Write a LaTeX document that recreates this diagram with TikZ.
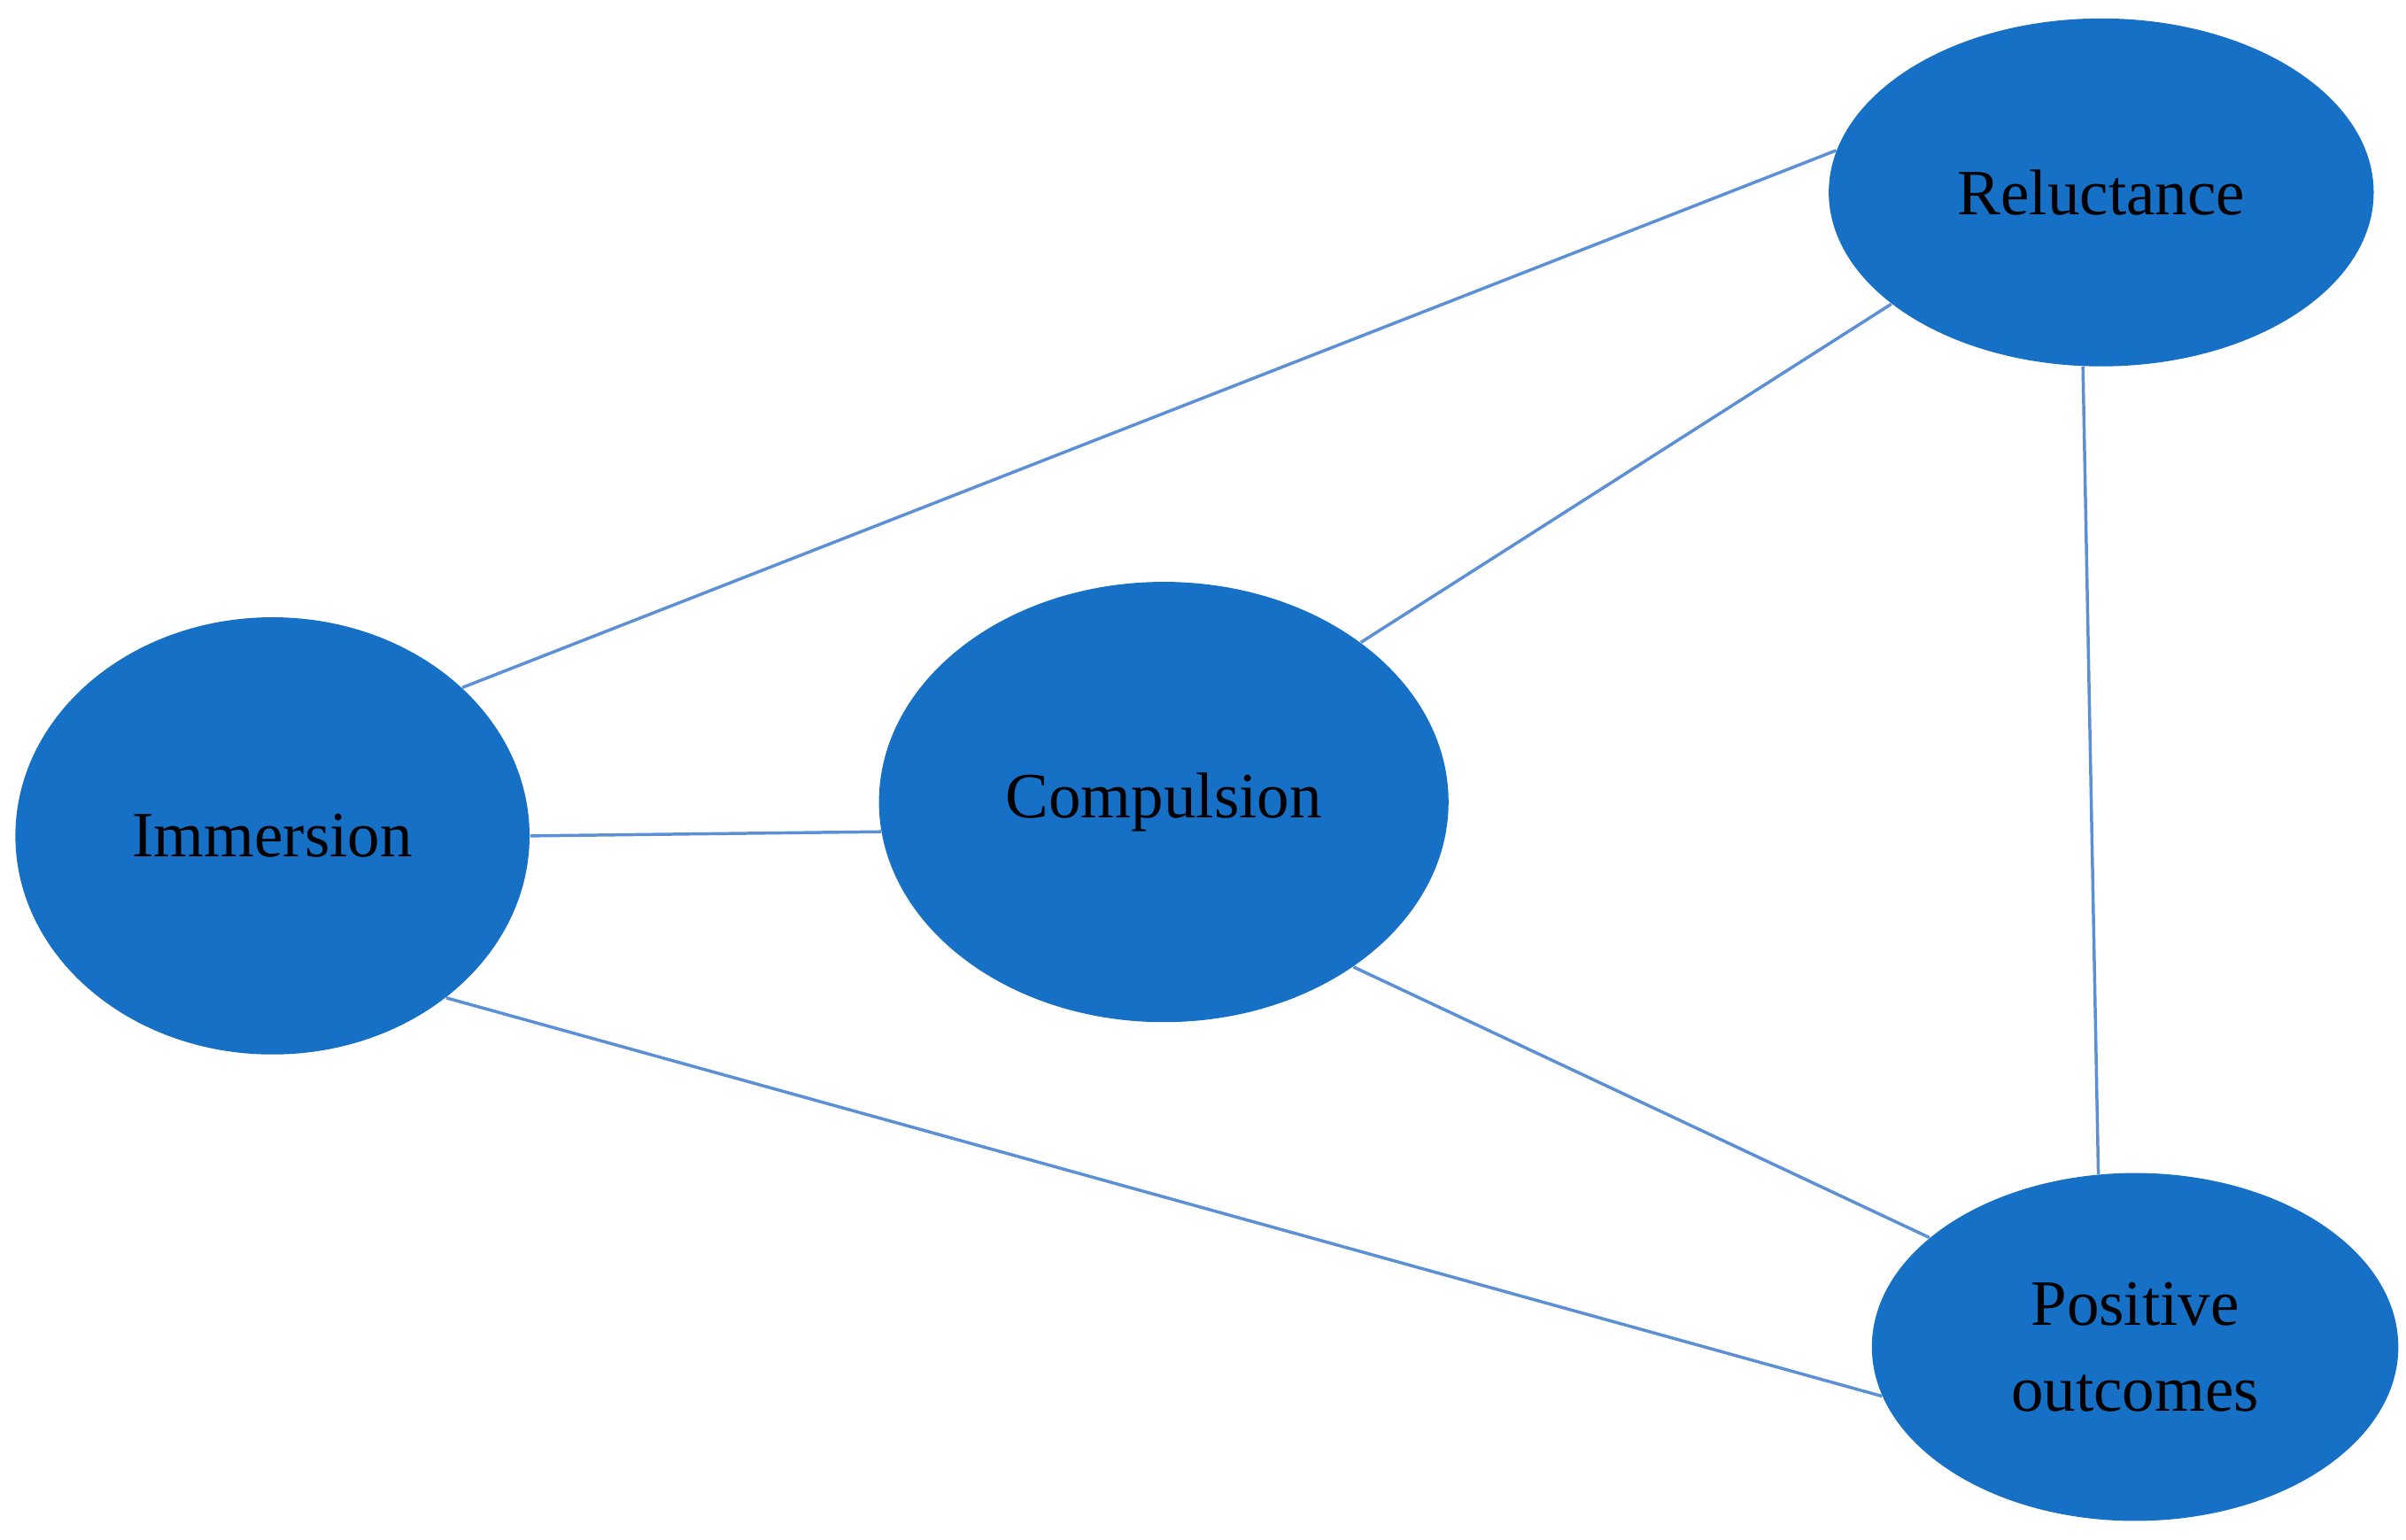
\documentclass[tikz,border=0pt]{standalone}
\usepackage{fontspec}
\setmainfont{Liberation Serif}
\usetikzlibrary{shapes.geometric}
\definecolor{nodeblue}{HTML}{1570C6}
\definecolor{lineblue}{HTML}{5B8FD6}
\begin{document}
\begin{tikzpicture}[x=0.5pt,y=0.5pt,
  el/.style={ellipse,fill=nodeblue,draw=none,inner sep=0pt,align=center,font=\fontsize{21}{28}\selectfont},
  ln/.style={draw=lineblue,line width=1pt}]
\useasboundingbox (0,0) rectangle (1563,1000);
\node[el,minimum width=354\pgflinewidth,minimum width=177pt,minimum height=113pt] (rel) at (1365,875) {Reluctance};
\node[el,minimum width=167pt,minimum height=142pt] (imm) at (177,457) {Immersion};
\node[el,minimum width=185pt,minimum height=143pt] (com) at (756,479) {Compulsion};
\node[el,minimum width=171pt,minimum height=113pt] (pos) at (1387,125) {Positive\\outcomes};
\draw[ln] (imm.38) -- (rel.171);
\draw[ln] (com.39) -- (rel.208);
\draw[ln] (rel.264) -- (pos.102);
\draw[ln] (com.319) -- (pos.152);
\draw[ln] (imm.317) -- (pos.191);
\draw[ln] (imm.0) -- (com.186);
\end{tikzpicture}
\end{document}
